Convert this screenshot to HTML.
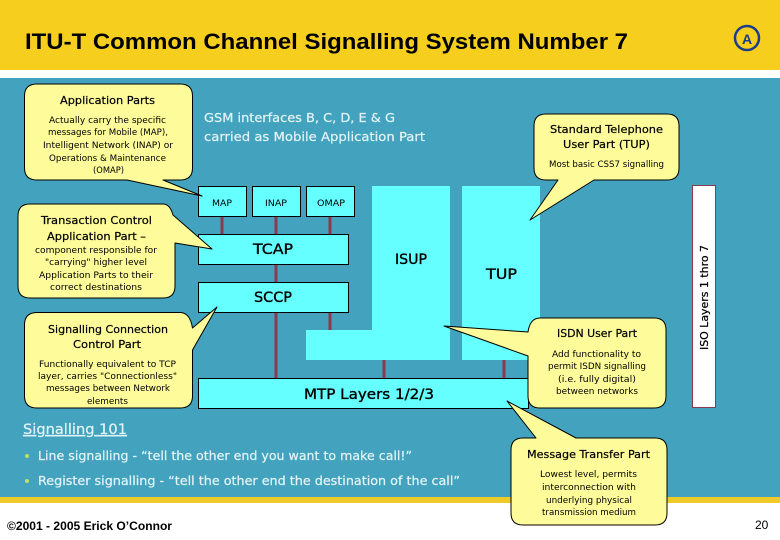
<!DOCTYPE html>
<html><head><meta charset="utf-8"><style>
html,body{margin:0;padding:0;background:#fff}
svg{display:block}
text{font-family:"DejaVu Sans",sans-serif;fill:#000}
.b{font-size:9px}
.h{font-size:11px;stroke:#000;stroke-width:.2}
.m{font-size:14px;stroke:#000;stroke-width:.35}
.w{fill:#e4f4f6;font-size:12px;stroke:#e4f4f6;stroke-width:.2}
.c{fill:#66ffff}
.k{fill:#66ffff;stroke:#000;stroke-width:1}
.n{fill:#fefc9a;stroke:#000;stroke-width:1;stroke-linejoin:round}
.l{stroke:#8b3a4e;stroke-width:3}
</style></head><body>
<svg width="780" height="540" viewBox="0 0 780 540" xmlns="http://www.w3.org/2000/svg">
<rect width="780" height="540" fill="#fff"/>
<rect width="780" height="70" fill="#f6cf1e"/>
<rect y="78" width="780" height="419" fill="#43a3bf"/>
<rect y="497" width="780" height="6" fill="#eecb2a"/>
<text x="25" y="49" textLength="603" lengthAdjust="spacingAndGlyphs" style="font-family:'Liberation Sans',sans-serif;font-weight:bold;font-size:22px">ITU-T Common Channel Signalling System Number 7</text>
<circle cx="747" cy="38" r="12" fill="none" stroke="#1f3c88" stroke-width="2.5"/>
<text x="747" y="44" text-anchor="middle" style="font-family:'Liberation Sans',sans-serif;font-weight:bold;font-size:14px;fill:#1f3c88">A</text>

<g class="l">
<line x1="222" y1="216" x2="222" y2="234"/><line x1="276" y1="216" x2="276" y2="234"/><line x1="330" y1="216" x2="330" y2="234"/>
<line x1="276" y1="264" x2="276" y2="282"/><line x1="276" y1="312" x2="276" y2="378"/><line x1="330" y1="312" x2="330" y2="330"/>
<line x1="384" y1="360" x2="384" y2="378"/><line x1="504" y1="360" x2="504" y2="378"/>
</g>
<rect class="k" x="198.5" y="186.5" width="48" height="30"/>
<rect class="k" x="252.5" y="186.5" width="48" height="30"/>
<rect class="k" x="306.5" y="186.5" width="48" height="30"/>
<rect class="k" x="198.5" y="234.5" width="150" height="30"/>
<rect class="k" x="198.5" y="282.5" width="150" height="30"/>
<polygon class="c" points="372,186 450,186 450,360 306,360 306,330 372,330"/>
<rect class="c" x="462" y="186" width="78" height="174"/>
<rect class="k" x="198.5" y="378.5" width="330" height="30"/>
<rect x="692.5" y="185.5" width="23" height="222" fill="#fff" stroke="#8b3a4e" stroke-width="1"/>

<text x="212" y="206" class="b" textLength="20" lengthAdjust="spacingAndGlyphs">MAP</text>
<text x="265" y="206" class="b" textLength="22" lengthAdjust="spacingAndGlyphs">INAP</text>
<text x="317" y="206" class="b" textLength="28" lengthAdjust="spacingAndGlyphs">OMAP</text>
<text x="253" y="254" class="m" textLength="40" lengthAdjust="spacingAndGlyphs">TCAP</text>
<text x="254" y="302" class="m" textLength="38" lengthAdjust="spacingAndGlyphs">SCCP</text>
<text x="395" y="264" class="m" textLength="32" lengthAdjust="spacingAndGlyphs">ISUP</text>
<text x="486" y="279" class="m" textLength="31" lengthAdjust="spacingAndGlyphs">TUP</text>
<text x="304" y="399" class="m" textLength="130" lengthAdjust="spacingAndGlyphs">MTP Layers 1/2/3</text>
<text transform="translate(708,350) rotate(-90)" style="font-size:11px;stroke:#000;stroke-width:.25" textLength="105" lengthAdjust="spacingAndGlyphs">ISO Layers 1 thro 7</text>

<text x="204" y="122" class="w" textLength="191" lengthAdjust="spacingAndGlyphs">GSM interfaces B, C, D, E &amp; G</text>
<text x="204" y="141" class="w" textLength="221" lengthAdjust="spacingAndGlyphs">carried as Mobile Application Part</text>

<path class="n" d="M37,84 H180 Q192.5,84 192.5,96 V168 Q192.5,180 180,180 H163 L202,196 L127,180 H37 Q24.5,180 24.5,168 V96 Q24.5,84 37,84 Z"/>
<text x="60" y="104" class="h" textLength="95" lengthAdjust="spacingAndGlyphs">Application Parts</text>
<text x="49" y="123" class="b" textLength="117" lengthAdjust="spacingAndGlyphs">Actually carry the specific</text>
<text x="48" y="135" class="b" textLength="120" lengthAdjust="spacingAndGlyphs">messages for Mobile (MAP),</text>
<text x="43" y="148" class="b" textLength="130" lengthAdjust="spacingAndGlyphs">Intelligent Network (INAP) or</text>
<text x="49" y="161" class="b" textLength="117" lengthAdjust="spacingAndGlyphs">Operations &amp; Maintenance</text>
<text x="93" y="173" class="b" textLength="31" lengthAdjust="spacingAndGlyphs">(OMAP)</text>

<path class="n" d="M30,204 H163 Q170,204 173,215 L212,249 L175,243 V286 Q175,298 163,298 H30 Q18,298 18,286 V216 Q18,204 30,204 Z"/>
<text x="41" y="224" class="h" textLength="111" lengthAdjust="spacingAndGlyphs">Transaction Control</text>
<text x="47" y="240" class="h" textLength="99" lengthAdjust="spacingAndGlyphs">Application Part –</text>
<text x="35" y="253" class="b" textLength="122" lengthAdjust="spacingAndGlyphs">component responsible for</text>
<text x="45" y="265" class="b" textLength="102" lengthAdjust="spacingAndGlyphs">"carrying" higher level</text>
<text x="39" y="278" class="b" textLength="114" lengthAdjust="spacingAndGlyphs">Application Parts to their</text>
<text x="50" y="290" class="b" textLength="92" lengthAdjust="spacingAndGlyphs">correct destinations</text>

<path class="n" d="M37,312.5 H180 Q190,312.5 192.5,328 L217,307 L192.5,350 V396 Q192.5,408 180,408 H37 Q24.5,408 24.5,396 V325 Q24.5,312.5 37,312.5 Z"/>
<text x="48" y="333" class="h" textLength="120" lengthAdjust="spacingAndGlyphs">Signalling Connection</text>
<text x="73" y="348" class="h" textLength="68" lengthAdjust="spacingAndGlyphs">Control Part</text>
<text x="39" y="367" class="b" textLength="137" lengthAdjust="spacingAndGlyphs">Functionally equivalent to TCP</text>
<text x="38" y="379" class="b" textLength="139" lengthAdjust="spacingAndGlyphs">layer, carries "Connectionless"</text>
<text x="46" y="391" class="b" textLength="124" lengthAdjust="spacingAndGlyphs">messages between Network</text>
<text x="87" y="404" class="b" textLength="41" lengthAdjust="spacingAndGlyphs">elements</text>

<path class="n" d="M546,114 H667 Q679,114 679,126 V168 Q679,180 667,180 H594 L530,220 L558,180 H546 Q534,180 534,168 V126 Q534,114 546,114 Z"/>
<text x="550" y="133" class="h" textLength="113" lengthAdjust="spacingAndGlyphs">Standard Telephone</text>
<text x="563" y="148" class="h" textLength="87" lengthAdjust="spacingAndGlyphs">User Part (TUP)</text>
<text x="549" y="167" class="b" textLength="115" lengthAdjust="spacingAndGlyphs">Most basic CSS7 signalling</text>

<path class="n" d="M540,318 H654 Q666,318 666,330 V396 Q666,408 654,408 H540 Q528,408 528,396 V356 L444,326 L528,332 Q530,318 540,318 Z"/>
<text x="557" y="337" class="h" textLength="80" lengthAdjust="spacingAndGlyphs">ISDN User Part</text>
<text x="552" y="357" class="b" textLength="89" lengthAdjust="spacingAndGlyphs">Add functionality to</text>
<text x="548" y="369" class="b" textLength="98" lengthAdjust="spacingAndGlyphs">permit ISDN signalling</text>
<text x="558" y="382" class="b" textLength="78" lengthAdjust="spacingAndGlyphs">(i.e. fully digital)</text>
<text x="556" y="394" class="b" textLength="82" lengthAdjust="spacingAndGlyphs">between networks</text>

<path class="n" d="M523,438 H536 L507,401 L576,438 H655 Q667,438 667,450 V513 Q667,525 655,525 H523 Q511,525 511,513 V450 Q511,438 523,438 Z"/>
<text x="527" y="458" class="h" textLength="123" lengthAdjust="spacingAndGlyphs">Message Transfer Part</text>
<text x="540" y="477" class="b" textLength="97" lengthAdjust="spacingAndGlyphs">Lowest level, permits</text>
<text x="542" y="490" class="b" textLength="94" lengthAdjust="spacingAndGlyphs">interconnection with</text>
<text x="546" y="503" class="b" textLength="86" lengthAdjust="spacingAndGlyphs">underlying physical</text>
<text x="542" y="515" class="b" textLength="94" lengthAdjust="spacingAndGlyphs">transmission medium</text>

<text x="23" y="434" class="w" style="font-size:14px;text-decoration:underline" textLength="104" lengthAdjust="spacingAndGlyphs">Signalling 101</text>
<circle cx="27" cy="456" r="2" fill="#c8dc60"/>
<circle cx="27" cy="481" r="2" fill="#c8dc60"/>
<text x="38" y="460" class="w" textLength="374" lengthAdjust="spacingAndGlyphs">Line signalling - “tell the other end you want to make call!”</text>
<text x="38" y="485" class="w" textLength="422" lengthAdjust="spacingAndGlyphs">Register signalling - “tell the other end the destination of the call”</text>

<text x="7" y="530" textLength="165" lengthAdjust="spacingAndGlyphs" style="font-family:'Liberation Sans',sans-serif;font-weight:bold;font-size:12px">©2001 - 2005 Erick O’Connor</text>
<text x="755" y="529" style="font-family:'Liberation Sans',sans-serif;font-size:12px">20</text>
</svg>
</body></html>
